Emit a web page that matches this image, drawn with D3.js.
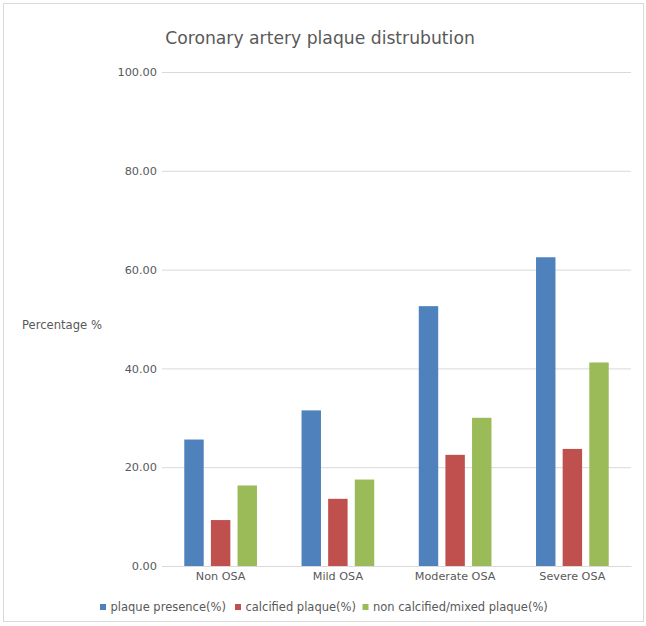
<!DOCTYPE html>
<html><head><meta charset="utf-8">
<script src="https://cdn.jsdelivr.net/npm/d3@7"></script>
<style>body{margin:0;background:#fff;} svg{display:block;font-family:"DejaVu Sans",sans-serif;}</style>
</head><body>
<svg id="c" width="646" height="626"></svg>
<script>
const categories = ["Non OSA", "Mild OSA", "Moderate OSA", "Severe OSA"];
const seriesNames = ["plaque presence(%)", "calcified plaque(%)", "non calcified/mixed plaque(%)"];
const plaquePresence = [25.6, 31.5, 52.6, 62.5];
const calcified = [9.3, 13.6, 22.5, 23.7];
const nonCalcified = [16.3, 17.5, 30.0, 41.2];
const yTicks = [0, 20, 40, 60, 80, 100];
const colors = ["#4f81bd", "#c0504d", "#9bbb59"];
const seriesValues = [plaquePresence, calcified, nonCalcified];

(function () {
const svg = d3.select("#c");
svg.append("rect").attr("x", 3.5).attr("y", 3.5).attr("width", 640).attr("height", 618)
  .attr("fill", "#fff").attr("stroke", "#d9d9d9");

const pLeft = 162, pRight = 631, pTop = 72, pBottom = 566;
const y = d3.scaleLinear().domain([0, 100]).range([pBottom, pTop]);
const x0 = d3.scaleBand().domain(categories).range([pLeft, pRight]).paddingInner(0.38).paddingOuter(0.19);
const x1 = d3.scaleBand().domain(seriesNames).range([0, x0.bandwidth()]).paddingInner(0.27);

// gridlines
svg.append("g").selectAll("line").data(yTicks).join("line")
  .attr("x1", pLeft).attr("x2", pRight).attr("y1", d => y(d) + 0.5).attr("y2", d => y(d) + 0.5)
  .attr("stroke", "#d9d9d9").attr("stroke-width", 1);

// y axis labels
const yAxis = d3.axisLeft(y).tickValues(yTicks).tickFormat(d3.format(".2f")).tickSize(0).tickPadding(5);
const ya = svg.append("g").attr("transform", `translate(${pLeft},0)`).call(yAxis);
ya.select(".domain").remove();
ya.selectAll("text").attr("font-size", 11.3).attr("fill", "#595959").attr("font-family", "DejaVu Sans");

// bars
const groups = svg.append("g").selectAll("g").data(categories).join("g")
  .attr("transform", d => `translate(${x0(d)},0)`);
groups.selectAll("rect").data((d, i) => seriesNames.map((s, k) => ({s, v: seriesValues[k][i], k})))
  .join("rect")
  .attr("x", d => x1(d.s)).attr("width", x1.bandwidth())
  .attr("y", d => y(d.v)).attr("height", d => y(0) - y(d.v))
  .attr("fill", d => colors[d.k]);

// x axis
const xAxis = d3.axisBottom(x0).tickSize(0).tickPadding(6);
const xa = svg.append("g").attr("transform", `translate(0,${pBottom})`).call(xAxis);
xa.select(".domain").attr("stroke", "#d9d9d9");
xa.selectAll("text").attr("font-size", 11.2).attr("fill", "#595959").attr("font-family", "DejaVu Sans");

// title
svg.append("text").attr("x", 320).attr("y", 44).attr("text-anchor", "middle")
  .attr("font-size", 17.2).attr("fill", "#595959").text("Coronary artery plaque distrubution");

// y label
svg.append("text").attr("x", 22).attr("y", 329).attr("font-size", 11.6).attr("fill", "#595959").text("Percentage %");

// legend
const legX = [100, 235, 362.5];
const leg = svg.append("g").selectAll("g").data(seriesNames).join("g")
  .attr("transform", (d, i) => `translate(${legX[i]},611)`);
leg.append("rect").attr("x", 0).attr("y", -7).attr("width", 6).attr("height", 6).attr("fill", (d, i) => colors[i]);
leg.append("text").attr("x", 10.5).attr("y", 0).attr("font-size", 11.5).attr("fill", "#595959").text(d => d);
})();
</script>
</body></html>
